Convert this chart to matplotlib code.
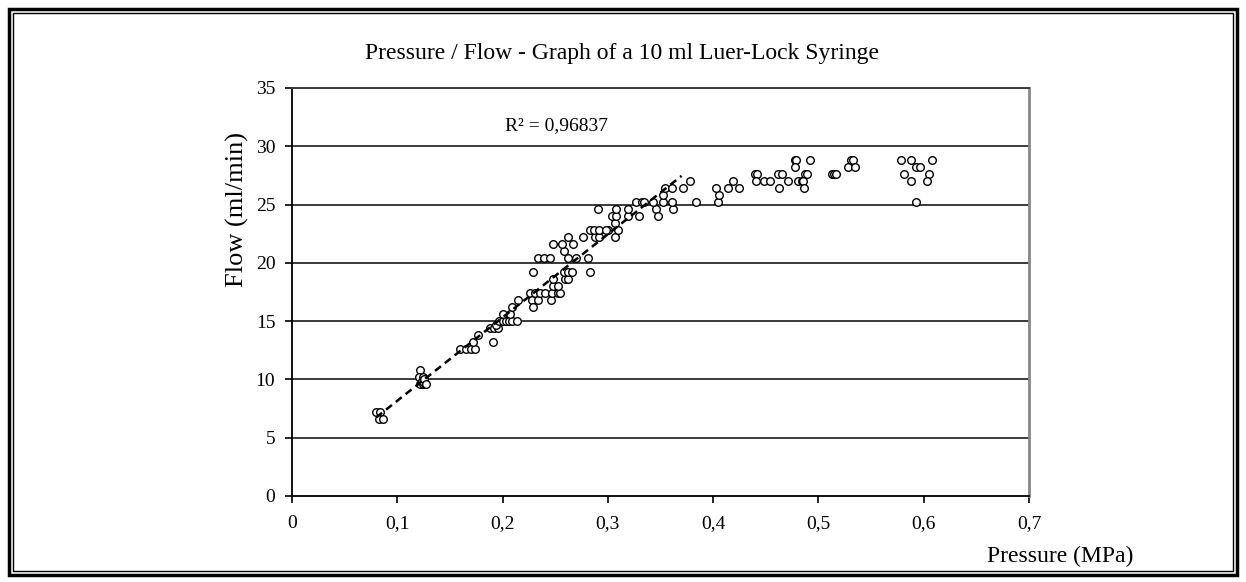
import numpy as np
import matplotlib
matplotlib.use("Agg")
import matplotlib.pyplot as plt
from matplotlib.patches import Rectangle

plt.rcParams['font.family'] = ['Liberation Serif', 'DejaVu Serif']

title = "Pressure / Flow - Graph of a 10 ml Luer-Lock Syringe"
x_label = "Pressure (MPa)"
y_label = "Flow (ml/min)"
r2_text = "R² = 0,96837"
x_ticks = [0, 0.1, 0.2, 0.3, 0.4, 0.5, 0.6, 0.7]
x_tick_labels = ["0", "0,1", "0,2", "0,3", "0,4", "0,5", "0,6", "0,7"]
y_ticks = [0, 5, 10, 15, 20, 25, 30, 35]
fit_x_max = 0.37

pressure = [
    0.080, 0.084, 0.083, 0.086,
    0.122, 0.121, 0.124, 0.122, 0.124, 0.126, 0.123, 0.125, 0.127,
    0.160, 0.165, 0.170, 0.174, 0.172, 0.177, 0.191, 0.188, 0.192, 0.196, 0.194,
    0.197, 0.200, 0.203, 0.206, 0.209, 0.214, 0.200, 0.207, 0.209, 0.215,
    0.226, 0.228, 0.229, 0.231, 0.234, 0.236, 0.240, 0.246, 0.247, 0.253, 0.255,
    0.248, 0.253, 0.248, 0.259, 0.262, 0.229, 0.258, 0.262, 0.266, 0.283,
    0.234, 0.239, 0.245, 0.262, 0.270, 0.281, 0.258, 0.248, 0.256, 0.267,
    0.262, 0.276, 0.288, 0.292, 0.307, 0.283, 0.287, 0.292, 0.300, 0.310,
    0.307, 0.298, 0.304, 0.308, 0.319, 0.330, 0.291, 0.308, 0.319, 0.346,
    0.362, 0.348, 0.327, 0.332, 0.334, 0.343, 0.352, 0.361, 0.384, 0.405,
    0.352, 0.354, 0.361, 0.371, 0.378,
    0.406, 0.403, 0.414, 0.419, 0.425, 0.440, 0.442, 0.441, 0.448, 0.454,
    0.462, 0.465, 0.463, 0.471, 0.478, 0.479, 0.478, 0.492, 0.481, 0.484,
    0.487, 0.489, 0.485, 0.486, 0.513, 0.515, 0.517, 0.531, 0.533, 0.528,
    0.535, 0.578, 0.588, 0.608, 0.593, 0.596, 0.581, 0.605, 0.588, 0.603,
    0.593,
]
flow = [
    7.2, 7.2, 6.6, 6.6,
    10.8, 10.2, 10.2, 9.6, 9.6, 9.6, 9.9, 10.0, 9.6,
    12.6, 12.6, 12.6, 12.6, 13.2, 13.8, 13.2, 14.4, 14.4, 14.4, 14.7,
    15.0, 15.0, 15.0, 15.0, 15.0, 15.0, 15.6, 15.6, 16.2, 16.8,
    17.4, 16.8, 16.2, 17.4, 16.8, 17.4, 17.4, 16.8, 17.4, 17.4, 17.4,
    18.0, 18.0, 18.6, 18.6, 18.6, 19.2, 19.2, 19.2, 19.2, 19.2,
    20.4, 20.4, 20.4, 20.4, 20.4, 20.4, 21.0, 21.6, 21.6, 21.6,
    22.2, 22.2, 22.2, 22.2, 22.2, 22.8, 22.8, 22.8, 22.8, 22.8,
    23.4, 22.8, 24.0, 24.0, 24.0, 24.0, 24.6, 24.6, 24.6, 24.6,
    24.6, 24.0, 25.2, 25.2, 25.2, 25.2, 25.2, 25.2, 25.2, 25.2,
    25.8, 26.4, 26.4, 26.4, 27.0,
    25.8, 26.4, 26.4, 27.0, 26.4, 27.6, 27.6, 27.0, 27.0, 27.0,
    27.6, 27.6, 26.4, 27.0, 28.8, 28.8, 28.2, 28.8, 27.0, 27.0,
    27.6, 27.6, 27.0, 26.4, 27.6, 27.6, 27.6, 28.8, 28.8, 28.2,
    28.2, 28.8, 28.8, 28.8, 28.2, 28.2, 27.6, 27.6, 27.0, 27.0,
    25.2,
]

px = np.array(pressure)
fl = np.array(flow)

fig = plt.figure(figsize=(12.46, 5.82), dpi=100)
ax = fig.add_axes([292/1246, 1-496/582, 737/1246, 408/582])

# grid lines
for yv in y_ticks[1:]:
    ax.axhline(yv, color='#3a3a3a', lw=1.4, zorder=1)

ax.scatter(px, fl, s=30, facecolors='white', edgecolors='black', linewidths=1.0, zorder=3)

# linear trend over the rising part
mask = px <= fit_x_max
k, b = np.polyfit(px[mask], fl[mask], 1)
xs = np.array([px[mask].min(), fit_x_max])
ax.plot(xs, k*xs + b, color='black', lw=1.8, ls=(0, (3, 2)), zorder=4)

ax.set_xlim(0, 0.7)
ax.set_ylim(0, 35)
ax.set_xticks(x_ticks)
ax.set_xticklabels(x_tick_labels)
ax.set_yticks(y_ticks)
ax.tick_params(axis='both', direction='out', length=5, width=1.2, labelsize=14, colors='black')
ax.tick_params(axis='x', pad=9)
ax.tick_params(axis='y', pad=7)
for s in ['left', 'bottom']:
    ax.spines[s].set_color('black')
    ax.spines[s].set_linewidth(1.3)
ax.spines['top'].set_color('#3a3a3a')
ax.spines['top'].set_linewidth(1.4)
ax.spines['right'].set_color('#888888')
ax.spines['right'].set_linewidth(2.0)

ax.text(0.202, 31.8, r2_text, fontsize=14, va='center', ha='left')

fig.text(622/1246, 1-53/582, title, fontsize=17, ha='center', va='center')
fig.text(237/1246, 1-209/582, y_label, fontsize=19, rotation=90, ha='center', va='center')
fig.text(1133/1246, 1-556/582, x_label, fontsize=17, ha='right', va='center')

# double border
fig.add_artist(Rectangle((9/1246, 7/582), 1228/1246, 566/582, transform=fig.transFigure,
                         fill=False, lw=2.5, edgecolor='black'))
fig.add_artist(Rectangle((13/1246, 11/582), 1220/1246, 558/582, transform=fig.transFigure,
                         fill=False, lw=1.0, edgecolor='black'))

fig.savefig('out.png', dpi=100)
